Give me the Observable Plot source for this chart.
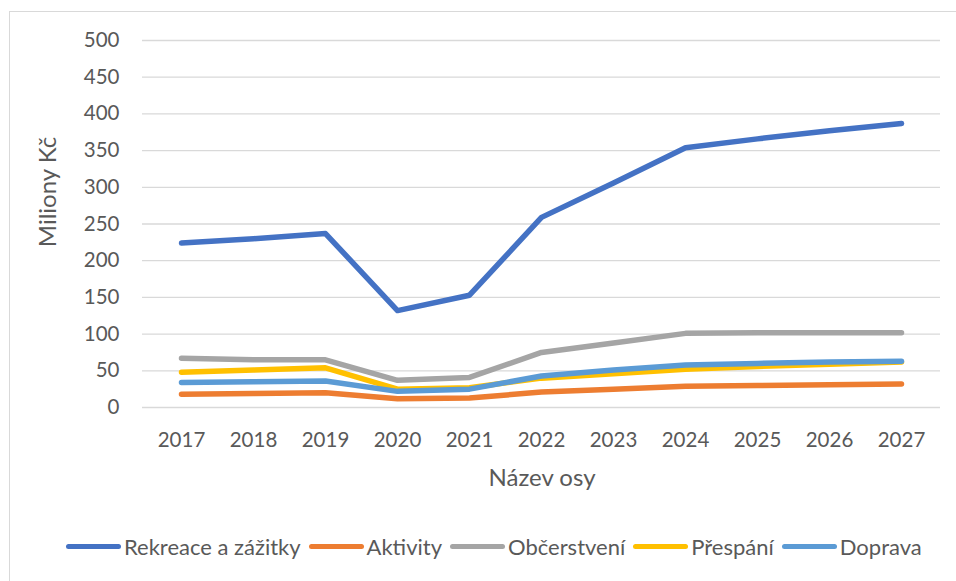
<!DOCTYPE html>
<html>
<head>
<meta charset="utf-8">
<script src="https://cdn.jsdelivr.net/npm/d3@7"></script>
<script src="https://cdn.jsdelivr.net/npm/@observablehq/plot@0.6"></script>
<style>
  html, body { margin: 0; padding: 0; background: #fff; width: 956px; height: 581px; overflow: hidden; }
  #frame { position: absolute; left: 9px; top: 11px; width: 960px; height: 600px; border: 1px solid #d9d9d9; box-sizing: border-box; }
  #chart { position: absolute; left: 0; top: 0; }
  #legend { position: absolute; left: 66px; top: 533px; display: flex; align-items: center; font-family: Lato, sans-serif; font-size: 22px; color: #595959; white-space: nowrap; }
  .item { display: flex; align-items: center; margin-right: 8px; }
  .sw { width: 55px; height: 5px; border-radius: 3px; margin-right: 3px; }
</style>
</head>
<body>
<div id="frame"></div>
<div id="chart"></div>
<div id="legend"></div>
<script>
const years = [2017, 2018, 2019, 2020, 2021, 2022, 2023, 2024, 2025, 2026, 2027];
const seriesNames = ["Rekreace a zážitky", "Aktivity", "Občerstvení", "Přespání", "Doprava"];
const rekreace = [224, 230, 237, 132, 153, 259, 306, 354, 366, 377, 387];
const aktivity = [18, 19, 20, 12, 13, 21, 25, 29, 30, 31, 32];
const obcerstveni = [67, 65, 65, 37, 41, 75, 88, 101, 102, 102, 102];
const prespani = [48, 51, 54, 25, 27, 40, 46, 52, 56, 59, 62];
const doprava = [34, 35, 36, 22, 25, 43, 51, 58, 60, 62, 63];
const yTicks = [0, 50, 100, 150, 200, 250, 300, 350, 400, 450, 500];
const colors = ["#4472C4", "#ED7D31", "#A5A5A5", "#FFC000", "#5B9BD5"];

const allValues = [rekreace, aktivity, obcerstveni, prespani, doprava];
const data = [];
seriesNames.forEach((name, i) => {
  years.forEach((yr, j) => data.push({series: name, year: yr, value: allValues[i][j]}));
});

const chart = Plot.plot({
  width: 956,
  height: 500,
  marginLeft: 142,
  marginRight: 16,
  marginTop: 40,
  marginBottom: 93,
  style: {fontFamily: "Lato, sans-serif", color: "#595959", background: "transparent"},
  x: {type: "point", domain: years, padding: 0.48},
  y: {domain: [0, 500]},
  color: {domain: seriesNames, range: colors},
  marks: [
    Plot.gridY(yTicks, {stroke: "#d9d9d9", strokeOpacity: 1, strokeWidth: 1.3}),
    Plot.axisY(yTicks, {tickSize: 0, tickPadding: 23, fontSize: 20.5, fill: "#595959",
      label: "Miliony Kč", labelAnchor: "center", labelArrow: "none", labelOffset: 96}),
    Plot.axisX(years, {tickSize: 0, tickPadding: 25, fontSize: 20.5, fill: "#595959", tickFormat: d => String(d),
      label: "Název osy", labelAnchor: "center", labelArrow: "none", labelOffset: 62}),
    Plot.line(data, {x: "year", y: "value", z: "series", stroke: "series",
      strokeWidth: 5.5, strokeLinecap: "round", strokeLinejoin: "round"})
  ]
});
function placeLabel(sel, tf) {
  const t = chart.querySelector(sel);
  if (!t) return;
  const g = t.parentNode;
  if (g && g.removeAttribute) g.removeAttribute("transform");
  t.setAttribute("transform", tf);
  t.setAttribute("x", 0);
  t.setAttribute("y", 0);
  t.setAttribute("dy", "0.35em");
  t.setAttribute("text-anchor", "middle");
  t.setAttribute("font-size", "24");
  t.style.fontSize = "24px";
  if (g) { g.setAttribute("font-size", "24"); g.setAttribute("text-anchor", "middle"); }
}
placeLabel("g[aria-label='y-axis label'] text", "translate(48,192) rotate(-90)");
placeLabel("g[aria-label='x-axis label'] text", "translate(542,478)");
document.getElementById("chart").appendChild(chart);

const legend = document.getElementById("legend");
seriesNames.forEach((name, i) => {
  const it = document.createElement("div");
  it.className = "item";
  const sw = document.createElement("div");
  sw.className = "sw";
  sw.style.background = colors[i];
  const tx = document.createElement("span");
  tx.textContent = name;
  it.appendChild(sw);
  it.appendChild(tx);
  legend.appendChild(it);
});
</script>
</body>
</html>
